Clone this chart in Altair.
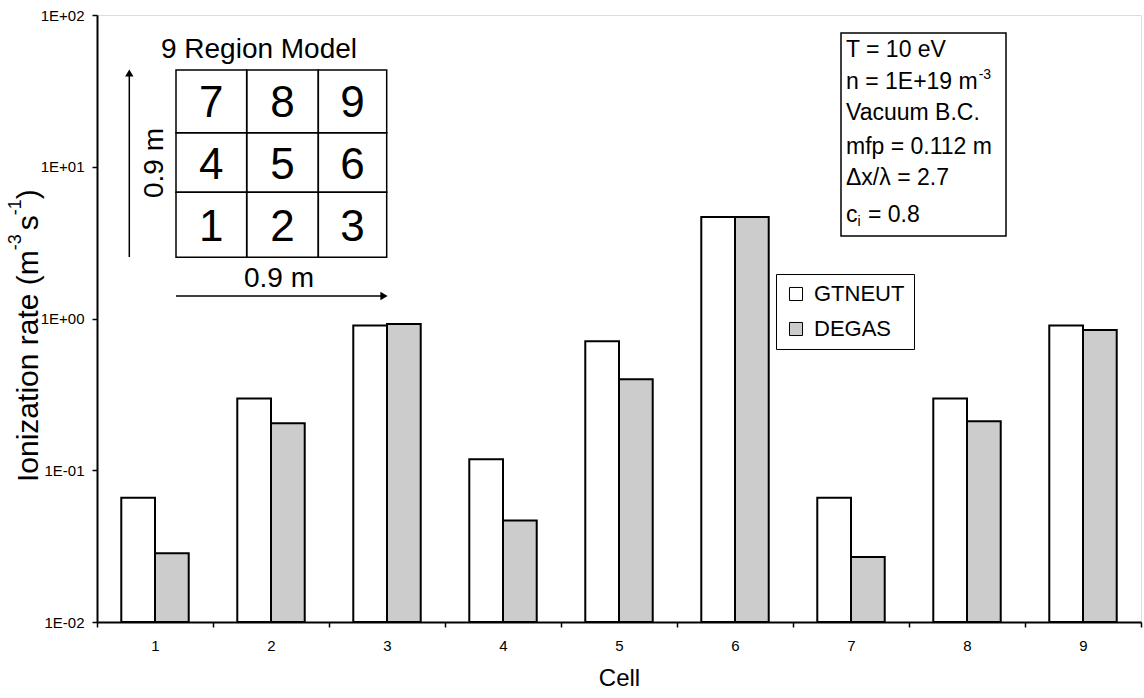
import altair as alt
import pandas as pd

# ---- data ----
cells = ["1", "2", "3", "4", "5", "6", "7", "8", "9"]
series = ["GTNEUT", "DEGAS"]
gtneut = [0.066, 0.297, 0.90, 0.118, 0.708, 4.67, 0.066, 0.297, 0.90]
degas = [0.0284, 0.204, 0.92, 0.0466, 0.398, 4.67, 0.0268, 0.210, 0.84]
y_ticks = [0.01, 0.1, 1, 10, 100]
info_lines = ["T = 10 eV", "Vacuum B.C.", "mfp = 0.112 m", "\u0394x/\u03bb = 2.7"]
grid_rows = [["7", "8", "9"], ["4", "5", "6"], ["1", "2", "3"]]

FONT = "Liberation Sans"
L, T = 97, 15          # plot origin in the page
PW, PH = 1044, 607     # plot size

rows = []
for i, c in enumerate(cells):
    rows.append({"Cell": c, "Series": "GTNEUT", "Value": gtneut[i]})
    rows.append({"Cell": c, "Series": "DEGAS", "Value": degas[i]})
df = pd.DataFrame(rows)
one = pd.DataFrame({"a": [0]})

# Arial / Liberation Sans advance widths (per 1000 em)
AW = {' ': 278, '(': 333, ')': 333, '-': 333, '+': 584, '=': 584, '.': 278, '/': 278,
      'I': 278, 'o': 556, 'n': 556, 'i': 222, 'z': 500, 'a': 556, 't': 278, 'r': 333,
      'e': 556, 'm': 833, 's': 500, 'c': 500, 'E': 667}
for d in "0123456789":
    AW[d] = 556


def tw(s, size):
    return sum(AW.get(ch, 556) for ch in s) / 1000.0 * size


def txt(text, x, y, size, align="left", baseline="alphabetic", angle=0):
    return alt.Chart(one).mark_text(
        text=text, fontSize=size, font=FONT, align=align, baseline=baseline,
        angle=angle, color="black"
    ).encode(x=alt.value(x - L), y=alt.value(y - T))


def rect(x1, y1, x2, y2, fill="transparent", sw=1.5):
    return alt.Chart(one).mark_rect(fill=fill, stroke="black", strokeWidth=sw).encode(
        x=alt.value(x1 - L), x2=alt.value(x2 - L), y=alt.value(y1 - T), y2=alt.value(y2 - T))


def rule(x1, y1, x2, y2, sw=1.5):
    return alt.Chart(one).mark_rule(color="black", strokeWidth=sw).encode(
        x=alt.value(x1 - L), x2=alt.value(x2 - L), y=alt.value(y1 - T), y2=alt.value(y2 - T))


def head(x, y, shape):
    return alt.Chart(one).mark_point(shape=shape, filled=True, color="black", size=70, opacity=1).encode(
        x=alt.value(x - L), y=alt.value(y - T))


label_expr = "'1E' + (datum.value >= 1 ? '+' : '-') + '0' + abs(round(log(datum.value)/LN10))"

bars = alt.Chart(df).mark_bar(stroke="black", strokeWidth=2, opacity=1).encode(
    x=alt.X("Cell:N", sort=cells,
            scale=alt.Scale(paddingInner=0, paddingOuter=0),
            axis=alt.Axis(title="Cell", titleFontSize=24, titleFontWeight="normal", titleFont=FONT,
                          titleY=56, titleBaseline="middle",
                          labelAngle=0, labelFontSize=15, labelFont=FONT, labelPadding=11,
                          tickBand="extent", tickSize=5, tickWidth=1.5, tickColor="black",
                          domainColor="black", domainWidth=2, labelColor="black")),
    xOffset=alt.XOffset("Series:N", sort=series,
                        scale=alt.Scale(paddingInner=0, paddingOuter=0.72)),
    y=alt.Y("Value:Q", stack=None,
            scale=alt.Scale(type="log", domain=[0.01, 100]),
            axis=alt.Axis(values=y_ticks, labelExpr=label_expr, title=None, grid=False,
                          labelFlush=False, labelOverlap=False,
                          tickSize=5, tickWidth=1.5, tickColor="black", labelPadding=8,
                          labelFontSize=15, labelFont=FONT, labelColor="black",
                          domainColor="black", domainWidth=2)),
    y2=alt.Y2Value(value=PH),
    fill=alt.Fill("Series:N", sort=series,
                  scale=alt.Scale(domain=series, range=["white", "#cccccc"]),
                  legend=alt.Legend(title=None, orient="none", legendX=679, legendY=259,
                                    direction="vertical", symbolType="square", symbolSize=170,
                                    symbolStrokeColor="black", symbolStrokeWidth=1,
                                    labelFontSize=22, labelFont=FONT, labelColor="black",
                                    labelOffset=7, rowPadding=13, padding=9,
                                    strokeColor="black", fillColor="white")),
)

layers = [bars]

# ---- y axis title with superscripts (rotated, reads bottom to top) ----
F, S = 30, 18
yx, ysx = 38, 21
y0 = 482
main = "Ionization rate (m"
layers.append(txt(main, yx, y0, F, angle=270))
y1 = y0 - tw(main, F)
layers.append(txt("-3", ysx, y1, S, angle=270))
y2 = y1 - tw("-3", S) - 4
layers.append(txt("s", yx, y2, F, angle=270))
y3 = y2 - tw("s", F)
layers.append(txt("-1", ysx, y3, S, angle=270))
y4 = y3 - tw("-1", S)
layers.append(txt(")", yx, y4, F, angle=270))

# ---- parameter box (top right) ----
BF, SF = 23, 14
bx = 846
layers.append(rect(841, 33, 1006, 236))
layers.append(txt(info_lines[0], bx, 57, BF))
nl = "n = 1E+19 m"
layers.append(txt(nl, bx, 89, BF))
layers.append(txt("-3", bx + tw(nl, BF) + 1, 79, SF))
layers.append(txt(info_lines[1], bx, 120, BF))
layers.append(txt(info_lines[2], bx, 154, BF))
layers.append(txt(info_lines[3], bx, 185, BF))
layers.append(txt("c", bx, 222, BF))
layers.append(txt("i", bx + tw("c", BF), 226, SF))
layers.append(txt("= 0.8", bx + tw("c", BF) + tw("i", SF) + tw(" ", BF) + 1, 222, BF))

# ---- inset: 9 region model ----
xs = [176, 246.7, 318.3, 386.7]
ys = [70, 132.7, 192.3, 257.3]
for r in range(3):
    for c in range(3):
        layers.append(rect(xs[c], ys[r], xs[c + 1], ys[r + 1]))
        layers.append(txt(grid_rows[r][c], (xs[c] + xs[c + 1]) / 2, (ys[r] + ys[r + 1]) / 2 + 16, 44,
                          align="center"))
layers.append(txt("9 Region Model", 259, 58, 28, align="center"))
layers.append(txt("0.9 m", 279, 287, 28, align="center"))
layers.append(txt("0.9 m", 163, 163, 28, align="center", angle=270))
layers.append(rule(176, 296, 382, 296))
layers.append(head(384, 296, "triangle-right"))
layers.append(rule(129.3, 257, 129.3, 76))
layers.append(head(129.3, 73, "triangle-up"))

chart = alt.layer(*layers).properties(
    width=PW, height=PH,
    autosize=alt.AutoSizeParams(type="none"),
    padding={"left": L, "top": T, "right": 1144 - L - PW, "bottom": 698 - T - PH},
    background="white",
).configure_view(stroke="black", strokeWidth=1.5).configure(font=FONT)

chart.save("out.html", embed_options={"renderer": "svg", "actions": False})
